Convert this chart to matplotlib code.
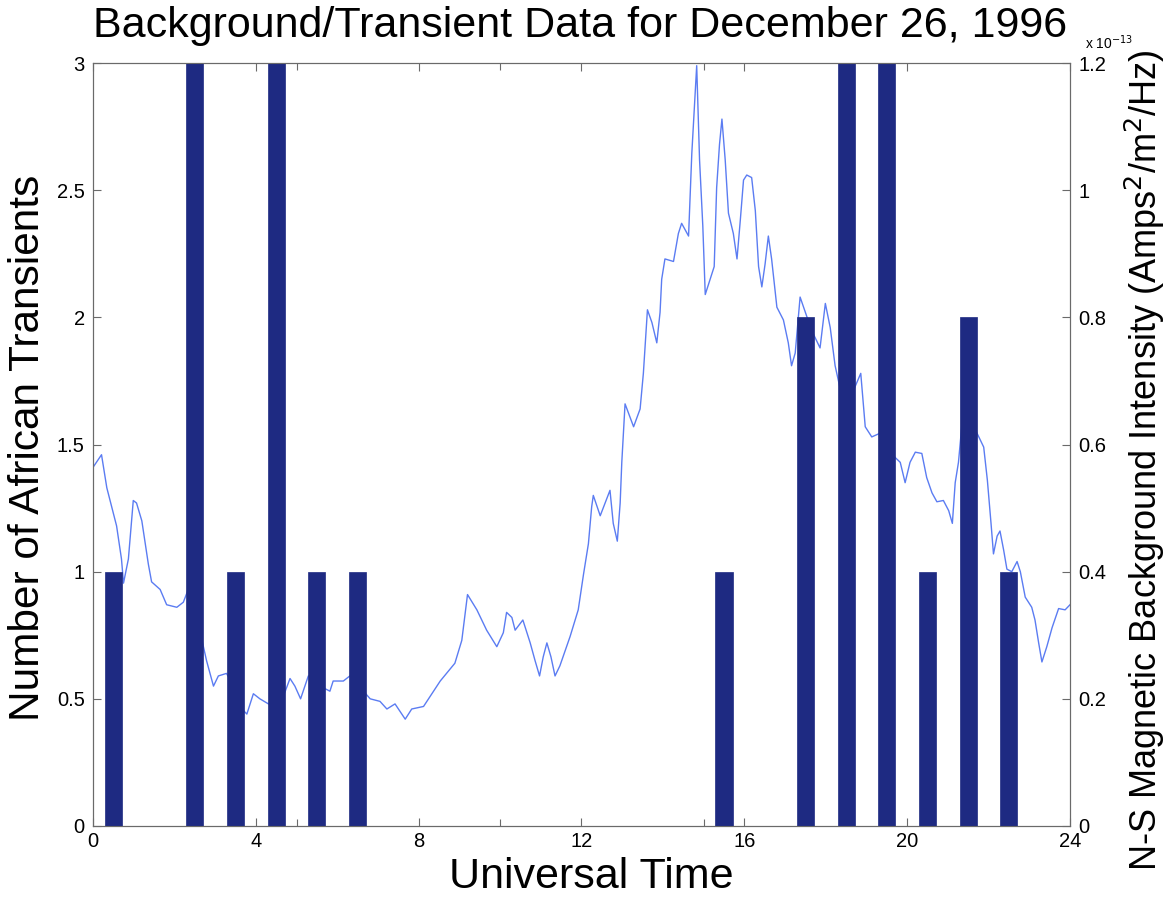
import matplotlib
matplotlib.use("Agg")
import matplotlib.pyplot as plt
from matplotlib.ticker import FuncFormatter

plt.rcParams['font.family'] = ['Liberation Sans', 'DejaVu Sans']

# Hourly counts of African transients (bar centres in UT hours)
bar_hours = [0.5, 2.5, 3.5, 4.5, 5.5, 6.5, 15.5, 17.5, 18.5, 19.5, 20.5, 21.5, 22.5]
bar_counts = [1, 3, 1, 3, 1, 1, 1, 2, 3, 3, 1, 2, 1]

# N-S magnetic background intensity (units of 1e-13 Amps^2/m^2/Hz)
bg_hours = [
    0.00, 0.21, 0.34, 0.58, 0.70, 0.75, 0.87, 0.99, 1.07, 1.20, 1.36, 1.44, 1.65, 1.81,
    2.06, 2.22, 2.34, 2.50, 2.65, 2.79, 2.96, 3.08, 3.28, 3.45, 3.60, 3.78, 3.94, 4.10,
    4.31, 4.50, 4.70, 4.84, 4.96, 5.10, 5.29, 5.50, 5.70, 5.82, 5.90, 6.15, 6.31, 6.50,
    6.70, 6.81, 7.05, 7.22, 7.42, 7.67, 7.83, 8.12, 8.53, 8.89, 9.06, 9.20, 9.43, 9.67,
    9.92, 10.08, 10.16, 10.29, 10.37, 10.56, 10.74, 10.86, 10.97, 11.06, 11.15, 11.25,
    11.35, 11.47, 11.72, 11.92, 12.05, 12.17, 12.25, 12.29, 12.46, 12.58, 12.70, 12.78,
    12.88, 12.95, 12.99, 13.07, 13.28, 13.44, 13.52, 13.62, 13.73, 13.85, 13.93, 13.97,
    14.05, 14.26, 14.38, 14.46, 14.63, 14.71, 14.79, 14.83, 14.90, 14.98, 15.04, 15.16,
    15.26, 15.32, 15.39, 15.45, 15.53, 15.61, 15.73, 15.82, 15.90, 15.98, 16.06, 16.18,
    16.27, 16.35, 16.43, 16.51, 16.59, 16.67, 16.80, 16.96, 17.08, 17.16, 17.25, 17.37,
    17.50, 17.65, 17.86, 17.99, 18.11, 18.23, 18.34, 18.50, 18.70, 18.86, 18.97, 19.13,
    19.34, 19.50, 19.70, 19.83, 19.95, 20.07, 20.20, 20.36, 20.48, 20.61, 20.73, 20.89,
    21.02, 21.11, 21.18, 21.26, 21.34, 21.50, 21.70, 21.88, 21.97, 22.06, 22.12, 22.21,
    22.28, 22.37, 22.45, 22.57, 22.70, 22.78, 22.90, 23.06, 23.14, 23.23, 23.31, 23.43,
    23.56, 23.72, 23.88, 24.00,
]
bg_intensity = [
    0.564, 0.584, 0.532, 0.472, 0.420, 0.382, 0.420, 0.512, 0.508, 0.480, 0.412, 0.384, 0.372, 0.348,
    0.344, 0.352, 0.372, 0.360, 0.300, 0.260, 0.220, 0.236, 0.240, 0.220, 0.188, 0.176, 0.208, 0.200,
    0.192, 0.188, 0.208, 0.232, 0.220, 0.200, 0.236, 0.232, 0.216, 0.212, 0.228, 0.228, 0.236, 0.232,
    0.208, 0.200, 0.196, 0.184, 0.192, 0.168, 0.184, 0.188, 0.228, 0.256, 0.292, 0.364, 0.340, 0.308,
    0.282, 0.304, 0.336, 0.328, 0.308, 0.324, 0.288, 0.260, 0.236, 0.266, 0.288, 0.266,
    0.236, 0.252, 0.298, 0.340, 0.396, 0.444, 0.502, 0.520, 0.488, 0.508, 0.528, 0.476,
    0.448, 0.508, 0.572, 0.664, 0.628, 0.656, 0.712, 0.812, 0.792, 0.760, 0.808, 0.860,
    0.892, 0.888, 0.932, 0.948, 0.928, 1.058, 1.152, 1.196, 1.048, 0.944, 0.836, 0.860,
    0.880, 1.004, 1.072, 1.112, 1.048, 0.964, 0.932, 0.892, 0.952, 1.016, 1.024, 1.020,
    0.968, 0.880, 0.848, 0.884, 0.928, 0.892, 0.816, 0.796, 0.760, 0.724, 0.744, 0.832,
    0.808, 0.780, 0.752, 0.822, 0.784, 0.724, 0.692, 0.680, 0.688, 0.712, 0.628, 0.612,
    0.618, 0.600, 0.580, 0.572, 0.540, 0.572, 0.588, 0.586, 0.548, 0.524, 0.510, 0.512,
    0.496, 0.476, 0.540, 0.572, 0.628, 0.640, 0.620, 0.596, 0.544, 0.476, 0.428, 0.456,
    0.464, 0.434, 0.404, 0.400, 0.416, 0.400, 0.360, 0.344, 0.324, 0.288, 0.258, 0.282,
    0.312, 0.342, 0.340, 0.348,
]

left_ticks = [0, 0.5, 1, 1.5, 2, 2.5, 3]
right_ticks = [0, 0.2, 0.4, 0.6, 0.8, 1.0, 1.2]
x_ticks = [0, 4, 8, 12, 16, 20, 24]

BAR_COLOR = '#1e2a82'
LINE_COLOR = '#5b7cf2'
FRAME = '#6a6a6a'

fig = plt.figure(figsize=(11.68, 9.02), dpi=100)
ax1 = fig.add_axes([0.0796, 0.0843, 0.8365, 0.8457])
ax2 = ax1.twinx()

# background line sits beneath the bars
ax1.set_zorder(ax2.get_zorder() + 1)
ax1.patch.set_visible(False)

ax1.bar(bar_hours, bar_counts, width=0.42, color=BAR_COLOR, edgecolor=BAR_COLOR, linewidth=0.5)
ax2.plot(bg_hours, bg_intensity, color=LINE_COLOR, linewidth=1.0)

ax1.set_xlim(0, 24)
ax1.set_ylim(0, 3)
ax2.set_ylim(0, 1.2)

fmt = FuncFormatter(lambda v, p: '%g' % v)
ax1.set_xticks(x_ticks)
ax1.set_xticks([5, 10, 15, 20], minor=True)
ax1.set_yticks(left_ticks)
ax2.set_yticks(right_ticks)
ax1.xaxis.set_major_formatter(fmt)
ax1.yaxis.set_major_formatter(fmt)
ax2.yaxis.set_major_formatter(fmt)

ax1.tick_params(axis='both', which='both', direction='in', color=FRAME, labelsize=14.5,
                top=True, length=6, width=0.8)
ax1.tick_params(axis='x', which='minor', length=5, labelbottom=False)
ax1.tick_params(axis='x', pad=4)
ax1.tick_params(axis='y', pad=6)
ax2.tick_params(axis='y', direction='in', color=FRAME, labelsize=14.5, length=6, width=0.8, pad=6)

for ax in (ax1, ax2):
    for s in ax.spines.values():
        s.set_color(FRAME)
        s.set_linewidth(0.8)

fig.text(0.497, 0.971, 'Background/Transient Data for December 26, 1996',
         ha='center', va='center', fontsize=31)
fig.text(0.506, 0.028, 'Universal Time', ha='center', va='center', fontsize=31)
fig.text(0.024, 0.503, 'Number of African Transients', ha='center', va='center',
         rotation=90, fontsize=30.5)
fig.text(0.980, 0.49, 'N-S Magnetic Background Intensity (Amps$^2$/m$^2$/Hz)',
         ha='center', va='center', rotation=90, fontsize=26)
fig.text(0.929, 0.953, r'x 10$^{-13}$', ha='left', va='center', fontsize=10)

fig.savefig('out.png', dpi=100)
